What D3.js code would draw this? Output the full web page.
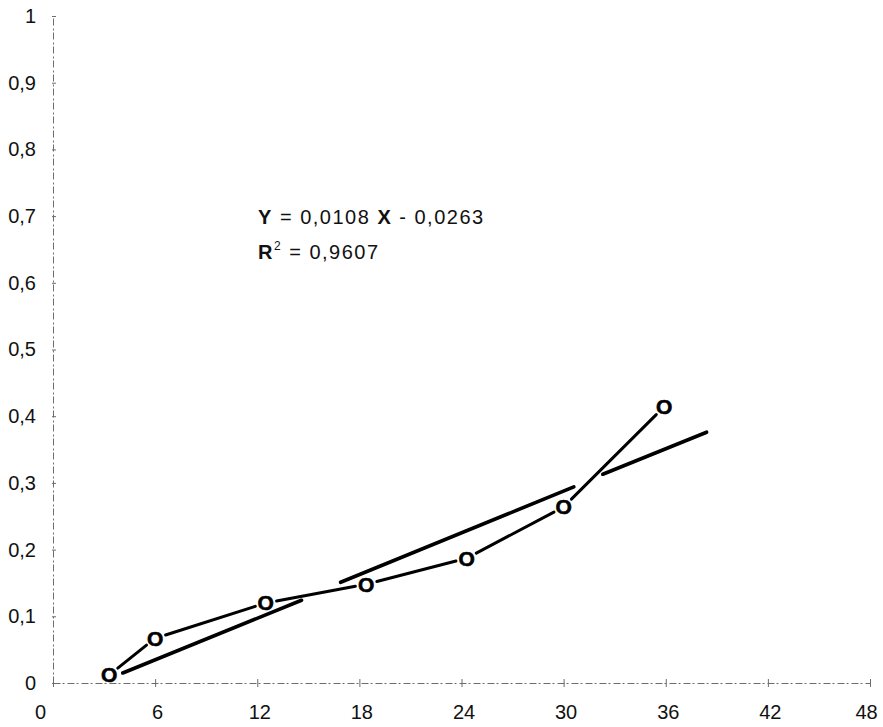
<!DOCTYPE html>
<html><head><meta charset="utf-8">
<script src="https://cdn.jsdelivr.net/npm/d3@7"></script>
<style>body{margin:0;background:#fff}svg{display:block}</style>
</head><body><svg id="c" width="883" height="727"></svg>
<script>
// ---- data ----
const xTicks = [0, 6, 12, 18, 24, 30, 36, 42, 48];
const yTicks = [0, 0.1, 0.2, 0.3, 0.4, 0.5, 0.6, 0.7, 0.8, 0.9, 1];
const yTickLabels = ["0", "0,1", "0,2", "0,3", "0,4", "0,5", "0,6", "0,7", "0,8", "0,9", "1"];
const xValues = [3.3, 6, 12.5, 18.4, 24.3, 30, 35.9];
const yValues = [0.012, 0.067, 0.12, 0.148, 0.187, 0.264, 0.414];
// trend line drawn in broken pieces (start/end of each piece)
const trendStartX = [4.1, 16.9, 32.3];
const trendStartY = [0.015, 0.151, 0.313];
const trendEndX = [14.6, 30.6, 38.4];
const trendEndY = [0.124, 0.294, 0.376];
const equationText = ["Y", " = 0,0108 ", "X", " - 0,0263"];
const r2Text = ["R", "2", " = 0,9607"];

// ---- drawing ----
const svg = d3.select("#c");
const x = d3.scaleLinear().domain([0, 48]).range([53, 870]);
const y = d3.scaleLinear().domain([0, 1]).range([683, 16]);
const font = "'Liberation Sans', Arial, sans-serif";

const axisColor = "#6d6d6d";
// x axis
const gx = svg.append("g").attr("transform", `translate(0,${y(0)})`)
  .call(d3.axisBottom(x).tickValues(xTicks).tickSizeInner(4).tickSizeOuter(0).tickPadding(18));
gx.select(".domain").attr("stroke", axisColor).attr("stroke-width", 1).attr("stroke-dasharray", "7 2 2 3");
gx.selectAll(".tick line").attr("y1", -4).attr("y2", 4).attr("stroke", axisColor);
gx.selectAll(".tick text").attr("font-family", font).attr("font-size", 20).attr("fill", "#111")
  .attr("dx", d => d === 0 ? -13 : (d === 48 ? -4 : 2));

// y axis
const gy = svg.append("g").attr("transform", `translate(${x(0)},0)`)
  .call(d3.axisLeft(y).tickValues(yTicks).tickFormat((d, i) => yTickLabels[i]).tickSizeInner(3).tickSizeOuter(0).tickPadding(14));
gy.select(".domain").attr("stroke", axisColor).attr("stroke-width", 1).attr("stroke-dasharray", "7 2 2 3");
gy.selectAll(".tick line").attr("x1", -1).attr("x2", 3).attr("stroke", axisColor);
gy.selectAll(".tick text").attr("font-family", font).attr("font-size", 20).attr("fill", "#111");

// data line, trimmed near markers
const pts = xValues.map((v, i) => [x(v), y(yValues[i])]);
const trim = 11;
const segs = [];
for (let i = 0; i < pts.length - 1; i++) {
  const [x1, y1] = pts[i], [x2, y2] = pts[i + 1];
  const dx = x2 - x1, dy = y2 - y1, L = Math.hypot(dx, dy);
  segs.push([x1 + dx / L * trim, y1 + dy / L * trim, x2 - dx / L * trim, y2 - dy / L * trim]);
}
svg.append("g").selectAll("line").data(segs).join("line")
  .attr("x1", d => d[0]).attr("y1", d => d[1]).attr("x2", d => d[2]).attr("y2", d => d[3])
  .attr("stroke", "#000").attr("stroke-width", 3).attr("stroke-linecap", "round");

// trend pieces
svg.append("g").selectAll("line").data(trendStartX).join("line")
  .attr("x1", (d, i) => x(d)).attr("y1", (d, i) => y(trendStartY[i]))
  .attr("x2", (d, i) => x(trendEndX[i])).attr("y2", (d, i) => y(trendEndY[i]))
  .attr("stroke", "#000").attr("stroke-width", 3.6).attr("stroke-linecap", "round");

// markers: bold letter O
svg.append("g").selectAll("text").data(xValues).join("text")
  .attr("x", d => x(d)).attr("y", (d, i) => y(yValues[i]))
  .attr("text-anchor", "middle").attr("dominant-baseline", "central")
  .attr("font-family", font).attr("font-weight", "bold").attr("font-size", 21)
  .attr("stroke", "#000").attr("stroke-width", 0.6)
  .text("O");

// equation
const eq = svg.append("text").attr("x", 258).attr("y", 224)
  .attr("font-family", font).attr("font-size", 20).attr("letter-spacing", 1.5).attr("fill", "#111");
equationText.forEach((t, i) => eq.append("tspan").attr("font-weight", i % 2 === 0 ? "bold" : "normal").text(t));
const r2 = svg.append("text").attr("x", 258).attr("y", 259)
  .attr("font-family", font).attr("font-size", 20).attr("letter-spacing", 1.5).attr("fill", "#111");
r2.append("tspan").attr("font-weight", "bold").text(r2Text[0]);
r2.append("tspan").attr("font-size", 12).attr("dy", -9).text(r2Text[1]);
r2.append("tspan").attr("dy", 9).text(r2Text[2]);
</script></body></html>
